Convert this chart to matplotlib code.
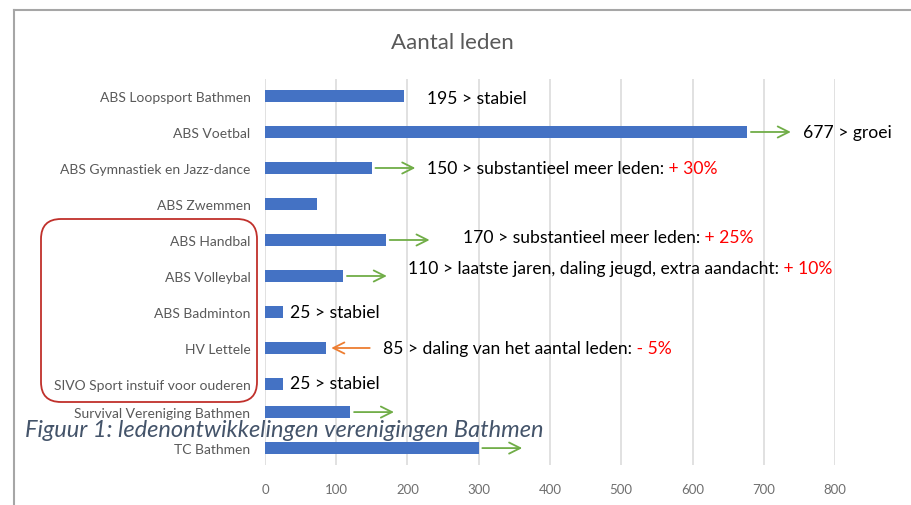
import matplotlib
matplotlib.use("Agg")
import matplotlib.pyplot as plt
import numpy as np
from matplotlib.lines import Line2D
from matplotlib.patches import FancyBboxPatch

plt.rcParams["font.family"] = ["Lato", "DejaVu Sans"]

# data
clubs = [
    "ABS Loopsport Bathmen",
    "ABS Voetbal",
    "ABS Gymnastiek en Jazz-dance",
    "ABS Zwemmen",
    "ABS Handbal",
    "ABS Volleybal",
    "ABS Badminton",
    "HV Lettele",
    "SIVO Sport instuif voor ouderen",
    "Survival Vereniging Bathmen",
    "TC Bathmen",
]
members = [195, 677, 150, 73, 170, 110, 25, 85, 25, 120, 300]

# annotation text per club: (black part, red part)
notes = [
    ("195 > stabiel", ""),
    ("677 > groei", ""),
    ("150 > substantieel meer leden:", " + 30%"),
    ("", ""),
    ("170 > substantieel meer leden:", " + 25%"),
    ("110 > laatste jaren, daling jeugd, extra aandacht:", " + 10%"),
    ("25 > stabiel", ""),
    ("85 > daling van het aantal leden:", " - 5%"),
    ("25 > stabiel", ""),
    ("", ""),
    ("", ""),
]
# trend arrow per club: "up", "down" or None
trend = [None, "up", "up", None, "up", "up", None, "down", None, "up", "up"]

title = "Aantal leden"
caption = "Figuur 1: ledenontwikkelingen verenigingen Bathmen"
xticks = [0, 100, 200, 300, 400, 500, 600, 700, 800]

# layout (data units) for arrows and texts
arrow_gap = 5       # from bar end to arrow start
arrow_len = 56
text_x = [227, 755, 227, None, 278, 201, 35, 166, 35, None, None]
text_dy = [0.05, 0, 0, 0, -0.08, -0.22, 0, 0, -0.03, 0, 0]

BLUE = "#4472C4"
GREEN = "#70AD47"
ORANGE = "#ED7D31"
GREY = "#595959"

fig = plt.figure(figsize=(9.12, 5.06), dpi=100)
ax = fig.add_axes([265 / 912, 1 - 466 / 506, 570 / 912, 386 / 506])

# the screenshot was stitched: last two rows sit a bit higher
ypos = np.arange(len(clubs), dtype=float)
ypos[9:] -= 0.22

ax.barh(ypos, members, height=0.33, color=BLUE, zorder=2)
ax.set_xlim(0, 800)
ax.set_ylim(10.25, -0.472)
ax.set_xticks(xticks)
ax.set_yticks(ypos)
ax.set_yticklabels(clubs)
ax.tick_params(axis="y", length=0, pad=10.5, labelsize=10, labelcolor=GREY)
ax.tick_params(axis="x", length=0, pad=13, labelsize=9.5, labelcolor="#6f6f6f")
ax.grid(axis="x", color="#d9d9d9", lw=1.1, zorder=0)
# faint seam where the screenshot was stitched
ax.axhspan(8.22, 8.44, color="white", alpha=0.7, lw=0, zorder=1)
for s in ax.spines.values():
    s.set_visible(False)

for i, v in enumerate(members):
    if trend[i] == "up":
        x0 = v + arrow_gap
        ax.annotate("", xy=(x0 + arrow_len, ypos[i]), xytext=(x0, ypos[i]),
                    arrowprops=dict(arrowstyle="->,head_length=0.8,head_width=0.4",
                                    color=GREEN, lw=1.3, shrinkA=0, shrinkB=0),
                    annotation_clip=False)
    elif trend[i] == "down":
        x0 = v + 62
        ax.annotate("", xy=(v + 8, ypos[i]), xytext=(x0, ypos[i]),
                    arrowprops=dict(arrowstyle="->,head_length=0.8,head_width=0.4",
                                    color=ORANGE, lw=1.3, shrinkA=0, shrinkB=0),
                    annotation_clip=False)
    black, red = notes[i]
    if black:
        t = ax.text(text_x[i], ypos[i] + text_dy[i], black, fontsize=12.6,
                    color="black", va="center", ha="left")
        if red:
            ax.annotate(red, xy=(1, 0), xycoords=t, fontsize=12.6, color="#FF0000",
                        va="bottom", ha="left")

fig.text(452 / 912, 1 - 43 / 506, title, fontsize=16, color=GREY, ha="center", va="center")

# outer chart frame (cut off at right and bottom)
frame_col = "#a6a6a6"
fig.add_artist(Line2D([14 / 912, 14 / 912], [0, 1 - 11 / 506], transform=fig.transFigure,
                      color=frame_col, lw=1.5))
fig.add_artist(Line2D([14 / 912, 1], [1 - 11 / 506, 1 - 11 / 506], transform=fig.transFigure,
                      color=frame_col, lw=1.5))

# red rounded highlight box
box = FancyBboxPatch((0.41, 5.06 - 4.03), 2.16, 1.83,
                     boxstyle="round,pad=0,rounding_size=0.2",
                     transform=fig.dpi_scale_trans, fill=False,
                     edgecolor="#C0302B", lw=1.3)
fig.add_artist(box)

fig.text(25 / 912, 1 - 431 / 506, caption, fontsize=17, style="italic",
         color="#44546A", ha="left", va="center")

fig.savefig("out.png", dpi=100)
